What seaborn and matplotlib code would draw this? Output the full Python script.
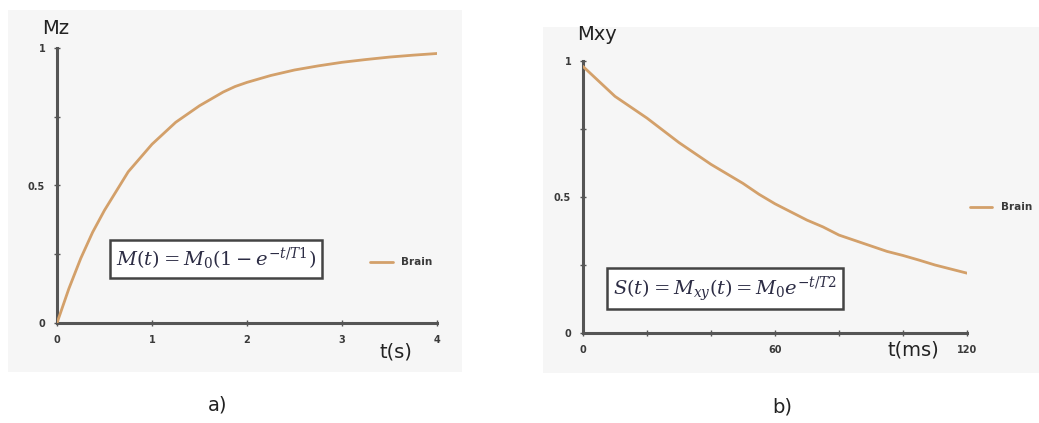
import matplotlib
matplotlib.use("Agg")
import matplotlib.pyplot as plt
from matplotlib.patches import Rectangle
from matplotlib.lines import Line2D
from matplotlib.ticker import FixedLocator
import seaborn as sns
import pandas as pd

sns.set_theme(style="white")
plt.rcParams["font.family"] = ["DejaVu Sans"]

# Longitudinal recovery (T1), time in seconds
t_s = [0, 0.125, 0.25, 0.375, 0.5, 0.625, 0.75, 0.875, 1.0, 1.125, 1.25, 1.375, 1.5,
       1.625, 1.75, 1.875, 2.0, 2.25, 2.5, 2.75, 3.0, 3.25, 3.5, 3.75, 4.0]
mz = [0.0, 0.125, 0.235, 0.33, 0.41, 0.48, 0.55, 0.60, 0.65, 0.69, 0.73, 0.76, 0.79,
      0.815, 0.84, 0.86, 0.875, 0.90, 0.92, 0.935, 0.948, 0.958, 0.967, 0.974, 0.98]

# Transverse decay (T2), time in milliseconds
t_ms = [0, 5, 10, 15, 20, 25, 30, 35, 40, 45, 50, 55, 60, 65, 70, 75, 80, 85, 90,
        95, 100, 105, 110, 115, 120]
mxy = [0.98, 0.925, 0.87, 0.83, 0.79, 0.745, 0.70, 0.66, 0.62, 0.585, 0.55, 0.51,
       0.475, 0.445, 0.415, 0.39, 0.36, 0.34, 0.32, 0.30, 0.285, 0.268, 0.25, 0.235, 0.22]

series_name = "Brain"
line_color = "#d3a06a"
axis_color = "#555555"
label_color = "#3a3a3a"

W, H = 1039, 423
fig = plt.figure(figsize=(W / 100, H / 100), dpi=100)
fig.patch.set_facecolor("white")


def px_axes(x0, y0, x1, y1):
    return fig.add_axes([x0 / W, 1 - y1 / H, (x1 - x0) / W, (y1 - y0) / H])


def fig_text(x, y, s, **kw):
    fig.text(x / W, 1 - y / H, s, **kw)


# light panel backgrounds on their own axes, kept beneath the plots
bg = fig.add_axes([0, 0, 1, 1], zorder=-5)
bg.set_xlim(0, W)
bg.set_ylim(H, 0)
bg.axis("off")
for (x0, y0, x1, y1) in [(8, 10, 462, 372), (543, 27, 1039, 373)]:
    bg.add_patch(Rectangle((x0, y0), x1 - x0, y1 - y0, facecolor="#f6f6f6",
                           edgecolor="none"))


def style_axes(ax, xlim, xticks, xminor):
    ax.set_zorder(2)
    ax.set_facecolor("none")
    ax.set_xlim(*xlim)
    ax.set_ylim(0, 1)
    for side in ["top", "right"]:
        ax.spines[side].set_visible(False)
    for side in ["left", "bottom"]:
        ax.spines[side].set_color(axis_color)
        ax.spines[side].set_linewidth(2.2)
    ax.set_xticks(xticks)
    ax.set_xticklabels([str(v) for v in xticks])
    ax.set_yticks([0, 0.5, 1])
    ax.set_yticklabels(["0", "0.5", "1"])
    ax.yaxis.set_minor_locator(FixedLocator([0.25, 0.75]))
    if xminor:
        ax.xaxis.set_minor_locator(FixedLocator(xminor))
    ax.tick_params(axis="both", which="major", direction="inout", length=5, width=1,
                   color=axis_color, labelsize=7, labelcolor=label_color, pad=6,
                   bottom=True, left=True)
    ax.tick_params(axis="both", which="minor", direction="inout", length=4, width=1,
                   color=axis_color, bottom=True, left=True)
    for lab in ax.get_xticklabels() + ax.get_yticklabels():
        lab.set_fontweight("bold")
    ax.set_xlabel("")
    ax.set_ylabel("")
    if ax.get_legend():
        ax.get_legend().remove()


# ---- a) Mz recovery ----
ax1 = px_axes(57, 48, 437, 323)
df1 = pd.DataFrame({"t": t_s, "M": mz})
sns.lineplot(data=df1, x="t", y="M", ax=ax1, color=line_color, linewidth=2, zorder=3)
style_axes(ax1, (0, 4), [0, 1, 2, 3, 4], None)

ax1.text(0.418, 0.233, r"$M(t)=M_0(1-e^{-t/T1})$", transform=ax1.transAxes,
         fontsize=14, color="#2c2c44", ha="center", va="center",
         math_fontfamily="dejavuserif", zorder=5,
         bbox=dict(boxstyle="square,pad=0.3", facecolor="white", edgecolor="#444444",
                   linewidth=1.8))
fig.lines.append(Line2D([370 / W, 393 / W], [1 - 262 / H, 1 - 262 / H],
                        transform=fig.transFigure, color=line_color, linewidth=2))
fig_text(401, 262, series_name, fontsize=7.5, fontweight="bold", color=label_color,
         ha="left", va="center")

fig_text(42, 29, "Mz", fontsize=14, color="#222222", ha="left", va="center")
fig_text(380, 352, "t(s)", fontsize=14, color="#222222", ha="left", va="center")
fig_text(218, 405, "a)", fontsize=14, color="#222222", ha="center", va="center")

# ---- b) Mxy decay ----
ax2 = px_axes(583, 61, 967, 333)
df2 = pd.DataFrame({"t": t_ms, "M": mxy})
sns.lineplot(data=df2, x="t", y="M", ax=ax2, color=line_color, linewidth=2, zorder=3)
style_axes(ax2, (0, 120), [0, 60, 120], [20, 40, 80, 100])

ax2.text(0.37, 0.162, r"$S(t)=M_{xy}(t)=M_0e^{-t/T2}$", transform=ax2.transAxes,
         fontsize=14, color="#2c2c44", ha="center", va="center",
         math_fontfamily="dejavuserif", zorder=5,
         bbox=dict(boxstyle="square,pad=0.3", facecolor="white", edgecolor="#444444",
                   linewidth=1.8))
fig.lines.append(Line2D([970 / W, 992 / W], [1 - 207 / H, 1 - 207 / H],
                        transform=fig.transFigure, color=line_color, linewidth=2))
fig_text(1001, 207, series_name, fontsize=7.5, fontweight="bold", color=label_color,
         ha="left", va="center")

fig_text(577, 34, "Mxy", fontsize=14, color="#222222", ha="left", va="center")
fig_text(888, 350, "t(ms)", fontsize=14, color="#222222", ha="left", va="center")
fig_text(782, 407, "b)", fontsize=14, color="#222222", ha="center", va="center")

fig.savefig("out.png", dpi=100, facecolor="white")
